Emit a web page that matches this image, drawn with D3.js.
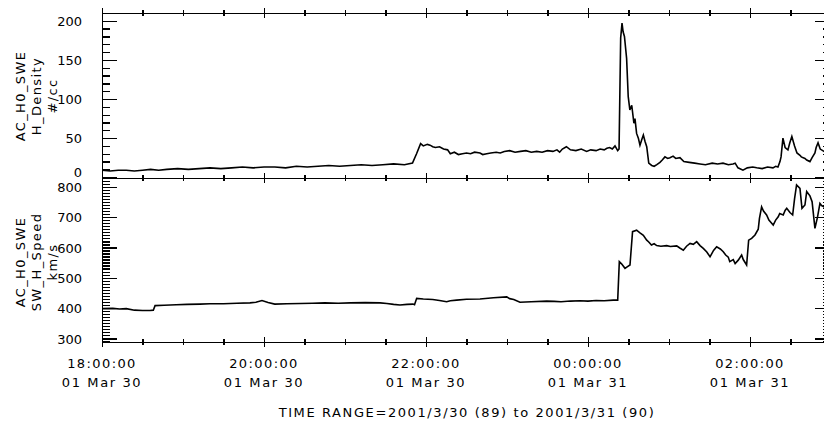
<!DOCTYPE html>
<html lang="en">
<head>
<script src="https://d3js.org/d3.v7.min.js"></script>
<style>
  body { margin:0; background:#fff; }
  text { font-family:"DejaVu Sans", sans-serif; fill:#000; }
  .axis path, .axis line { stroke:#000; stroke-width:1.3; shape-rendering:crispEdges; }
  .axis text { font-size:13px; font-family:"DejaVu Sans", sans-serif; }
</style>
</head>
<body>
<script>
// minutes after 2001-03-30 18:00 UT
var densMin = [0,6,12,18,24,30,36,42,48,56,64,72,80,88,96,104,112,120,128,136,144,152,160,168,176,184,192,200,208,216,224,230,233,236,238,241,243,245,247,250,253,256,258,261,264,267,270,273,276,280,282,285,288,292,295,298,302,306,310,314,318,322,326,330,334,337,339,341,344,347,351,355,359,362,366,369,372,374,376,378,380,382,383,384.2,385.2,386,387,388.6,389.8,391,392.4,394,394.8,396,397.3,398.5,399.8,401,402.2,403.5,405,407.2,409,411,413.3,415,417,419,420.7,423,425,428.1,431,435,439,443,447,452,456,460,464,467.4,469,471.1,474.8,478,482,485,489,493,497,499,500.7,502.2,503,504.4,506,508.1,509.5,511,513,514.8,517,518,520.7,522,524.4,526,528.1,529,530.4,532,534.8,537,540];
var densVal = [9,8,9,9,8,9,10,9,10,11,10,11,12,11,12,13,12,13,13,12,14,13,14,15,14,15,16,15,16,17,16,18,30,43,40,42,41,39,38,39,36,35,30,32,29,30,31,30,32,31,29,30,31,32,31,33,34,32,33,34,32,33,32,34,33,35,32,36,39,35,34,36,33,35,34,36,35,37,38,36,40,34,36,178,197,186,180,152,103,86,92,69,75,56,50,41,48,54,46,39,18,15,14,16,19,22,26,24,25,27,24,25,20,19,18,17,16,18,17,18,16,17,18,12,9,12,13,12,11,13,12,14,13,20,26,50,38,35,44,52,40,31,28,26,24,22,20,25,31,38,44,36,33,35,32,30];

var speedMin = [0,8,13,18,24,30,35.6,38,39.3,46,55,63,72.6,80,90,100,109.6,114,118.5,123,128,137,147,156,165,175,184,195,206,211,216,220.7,226,230.4,231.5,233.1,238,245,250,255.3,258,262.7,270,280,290,299.8,302,305,309.6,318,329.4,335,340,347,354,360,366,372,378.7,382,383.2,385,387.4,389,391.1,393,396,398.5,401,403.5,405,407,409,410.9,414,418.3,421,425.7,428,430.6,433,435.6,438,440.5,443,445.4,448,450.4,453,455.3,458,460.2,462,463.9,465,467.6,469,471.3,473.8,475,477.5,479,481.2,483.7,486.1,487,488.6,490,492.3,494,497.2,499,500.9,502,504.6,506,507.2,509.6,511.6,513,514.5,517,518.5,520.7,522,524.4,526,528.1,530,531.8,533,534.8,537,540];
var speedVal = [398,399,397,398,393,392,392,393,408,409,411,412,413,414,414,416,417,419,425,418,413,414,415,416,417,416,417,418,417,415,412,410,412,413,411,432,430,428,425,421,424,426,429,430,434,437,431,428,419,421,423,422,421,423,424,423,425,424,426,426,553,545,531,536,542,652,657,648,640,624,618,608,612,606,604,606,603,605,598,591,604,613,610,619,606,597,585,569,590,602,595,586,575,568,553,560,547,558,575,560,542,624,630,641,660,696,734,720,707,690,674,690,701,712,707,722,729,715,707,760,806,795,729,740,784,770,751,663,700,745,738,734,725,718,730,724,712,715];

var densTicks = [0,50,100,150,200];
var speedTicks = [300,400,500,600,700,800];
var hourTicks = [18,20,22,24,26];
var tickLine1 = ["18:00:00","20:00:00","22:00:00","00:00:00","02:00:00"];
var tickLine2 = ["01 Mar 30","01 Mar 30","01 Mar 30","01 Mar 31","01 Mar 31"];
var densLabel = ["AC_H0_SWE","H_Density","#/cc"];
var speedLabel = ["AC_H0_SWE","SW_H_Speed","km/s"];
var rangeTitle = "TIME RANGE=2001/3/30 (89) to 2001/3/31 (90)";

var W = 824, H = 427;
var x0 = 102, x1 = 831;
var base = Date.UTC(2001,2,30,18,0);
function tm(m){ return new Date(base + m*60000); }

var svg = d3.select("body").append("svg").attr("width",W).attr("height",H);

var x = d3.scaleUtc().domain([tm(0), tm(540)]).range([x0, x1]);

var panels = [
  {top:13, bot:178, dom:[-1,210], ticks:densTicks, step:10, mins:densMin, vals:densVal, label:densLabel, cy:96},
  {top:178, bot:342, dom:[288,829], ticks:speedTicks, step:10, mins:speedMin, vals:speedVal, label:speedLabel, cy:262}
];

var majorX = hourTicks.map(function(h){ return tm((h-18)*60); });
var minorX = d3.range(0,541,30).map(tm);

panels.forEach(function(p, i){
  var y = d3.scaleLinear().domain(p.dom).range([p.bot, p.top]);
  var minorY = d3.range(Math.ceil(p.dom[0]/p.step)*p.step, p.dom[1], p.step);

  // clip for the line
  var cid = "clip" + i;
  svg.append("clipPath").attr("id", cid).append("rect")
    .attr("x", x0).attr("y", p.top).attr("width", x1-x0).attr("height", p.bot-p.top);

  svg.append("path")
    .datum(p.mins.map(function(m,k){ return [tm(m), p.vals[k]]; }))
    .attr("clip-path","url(#"+cid+")")
    .attr("fill","none").attr("stroke","#000").attr("stroke-width",1.6)
    .attr("d", d3.line().x(function(d){return x(d[0]);}).y(function(d){return y(d[1]);}));

  // left axis
  svg.append("g").attr("class","axis").attr("transform","translate("+x0+",0)")
    .call(d3.axisLeft(y).tickValues(minorY).tickSize(-8).tickFormat("")).select(".domain").remove();
  var la = svg.append("g").attr("class","axis").attr("transform","translate("+x0+",0)")
    .call(d3.axisLeft(y).tickValues(p.ticks).tickSizeInner(-15).tickSizeOuter(0).tickPadding(20).tickFormat(d3.format("d")));
  // the 0 label sits right on the panel border, lift it a little off the 800 below
  la.selectAll("text").attr("dy", function(d){ return (i === 0 && d === 0) ? "-0.08em" : "0.36em"; });

  // right axis
  svg.append("g").attr("class","axis").attr("transform","translate("+x1+",0)")
    .call(d3.axisRight(y).tickValues(minorY).tickSize(-8).tickFormat("")).select(".domain").remove();
  svg.append("g").attr("class","axis").attr("transform","translate("+x1+",0)")
    .call(d3.axisRight(y).tickValues(p.ticks).tickSizeInner(-16).tickSizeOuter(0).tickFormat(""));

  // top and bottom time axes, ticks crossing the frame line
  [p.top, p.bot].forEach(function(yy){
    svg.append("g").attr("class","axis").attr("transform","translate(0,"+yy+")")
      .call(d3.axisBottom(x).tickValues(minorX).tickSizeInner(3).tickSizeOuter(0).tickFormat(""));
    svg.append("g").attr("class","axis").attr("transform","translate(0,"+yy+")")
      .call(d3.axisTop(x).tickValues(minorX).tickSizeInner(3).tickSizeOuter(0).tickFormat(""));
    svg.append("g").attr("class","axis").attr("transform","translate(0,"+yy+")")
      .call(d3.axisBottom(x).tickValues(majorX).tickSizeInner(5).tickSizeOuter(0).tickFormat("")).select(".domain").remove();
    svg.append("g").attr("class","axis").attr("transform","translate(0,"+yy+")")
      .call(d3.axisTop(x).tickValues(majorX).tickSizeInner(5).tickSizeOuter(0).tickFormat("")).select(".domain").remove();
  });

  // rotated panel label
  var lg = svg.append("g").attr("transform","translate(0,"+p.cy+")");
  p.label.forEach(function(s, k){
    lg.append("text")
      .attr("transform","translate("+(25+k*16)+",0) rotate(-90)")
      .attr("text-anchor","middle")
      .style("font-size","13px").style("letter-spacing","1.4px")
      .text(s);
  });
});

// time labels below the bottom panel
var xl = svg.append("g");
majorX.forEach(function(t, k){
  xl.append("text").attr("x", x(t)).attr("y", 368).attr("text-anchor","middle")
    .style("font-size","13px").style("letter-spacing","1.4px").text(tickLine1[k]);
  xl.append("text").attr("x", x(t)).attr("y", 387).attr("text-anchor","middle")
    .style("font-size","13px").style("letter-spacing","1.6px").text(tickLine2[k]);
});

svg.append("text").attr("x", 467).attr("y", 417).attr("text-anchor","middle")
  .style("font-size","13px").style("letter-spacing","1.6px").text(rangeTitle);
</script>
</body>
</html>
